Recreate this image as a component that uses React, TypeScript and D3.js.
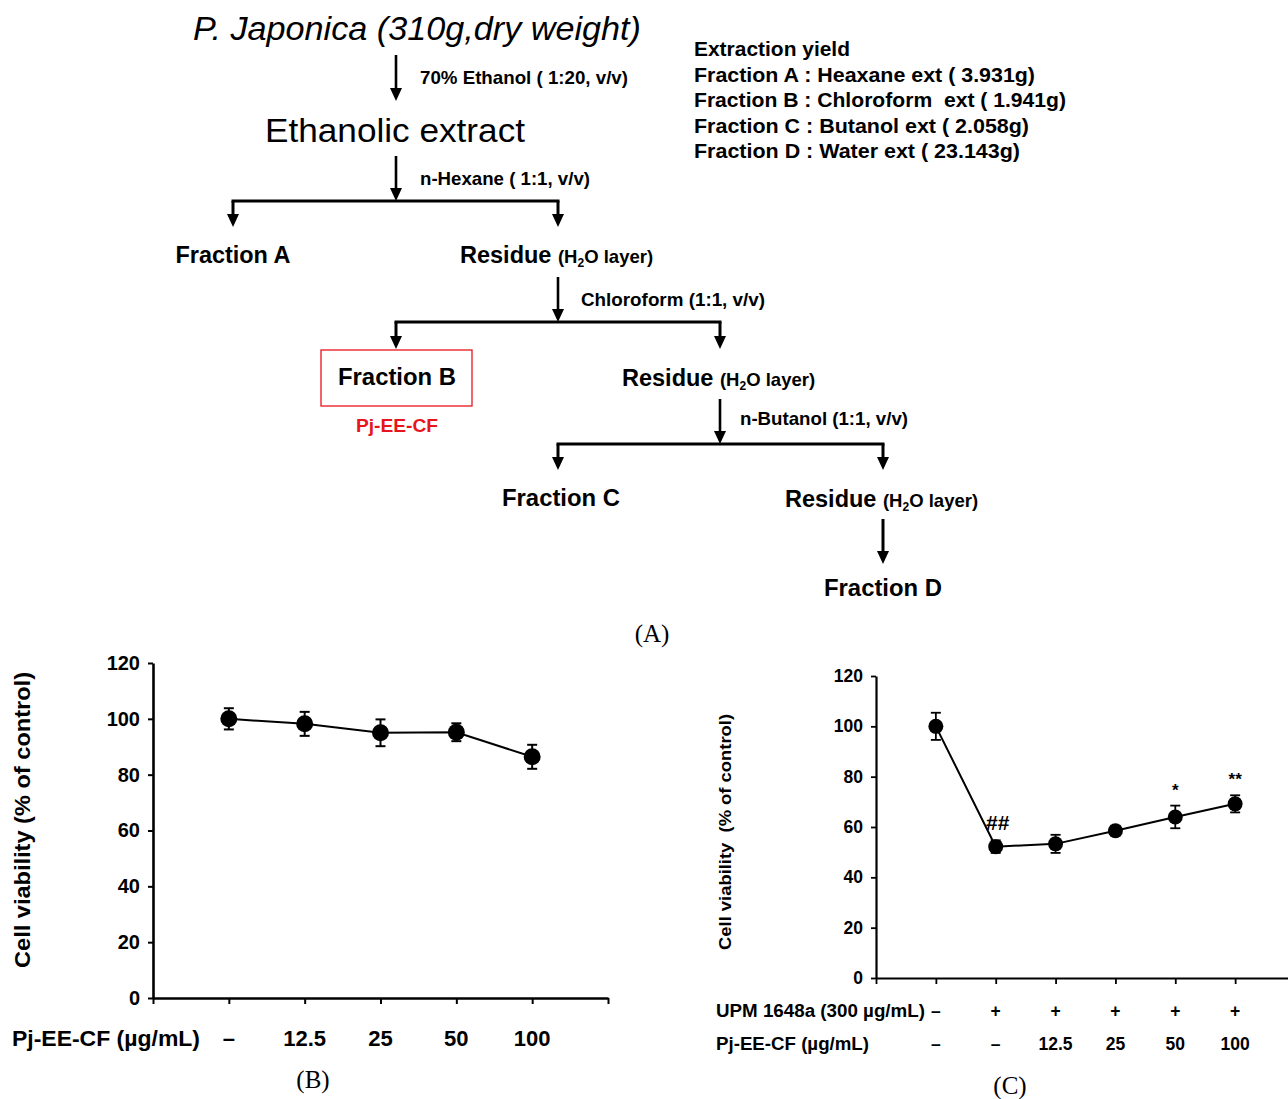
import React, { useEffect, useRef } from "react";
import * as d3 from "d3";

// panel B: cell viability with Pj-EE-CF alone
const doseLabelsB = ["–", "12.5", "25", "50", "100"];
const viabilityB = [100, 98.2, 95, 95.2, 86.4];
const errorB = [3.8, 4.3, 4.8, 3.2, 4.3];

// panel C: UPM 1648a challenge + Pj-EE-CF
const upmLabels = ["–", "+", "+", "+", "+", "+"];
const doseLabelsC = ["–", "–", "12.5", "25", "50", "100"];
const viabilityC = [100, 52.2, 53.3, 58.5, 64, 69.2];
const errorC = [5.4, 2.5, 3.6, 2.0, 4.5, 3.4];
const signifC = ["", "##", "", "", "*", "**"];

const yTicks = [0, 20, 40, 60, 80, 100, 120];

const yieldLines = [
  "Extraction yield",
  "Fraction A : Heaxane ext ( 3.931g)",
  "Fraction B : Chloroform  ext ( 1.941g)",
  "Fraction C : Butanol ext ( 2.058g)",
  "Fraction D : Water ext ( 23.143g)",
];
const yieldWidths = [156, 341, 372, 335, 326];

const SANS = "'Liberation Sans', Arial, sans-serif";
const SERIF = "'Liberation Serif', 'Times New Roman', serif";

const App = () => {
  const ref = useRef(null);

  useEffect(() => {
    d3.select(ref.current).select("svg").remove();

    const svg = d3
      .select(ref.current)
      .append("svg")
      .attr("width", 1288)
      .attr("height", 1099)
      .style("position", "absolute")
      .style("left", 0)
      .style("top", 0)
      .style("background", "#fff")
      .style("font-family", SANS);

    // ---------- flowchart (A) ----------
    const flow = svg.append("g");

    const arrowDown = (x, y1, y2, w = 2.6) => {
      flow
        .append("line")
        .attr("x1", x)
        .attr("x2", x)
        .attr("y1", y1)
        .attr("y2", y2 - 10)
        .attr("stroke", "#000")
        .attr("stroke-width", w);
      flow
        .append("path")
        .attr("d", `M${x - 6},${y2 - 13} L${x + 6},${y2 - 13} L${x},${y2} Z`)
        .attr("fill", "#000");
    };

    const split = (xl, xr, y, yEnd) => {
      flow
        .append("line")
        .attr("x1", xl - 1.5)
        .attr("x2", xr + 1.5)
        .attr("y1", y)
        .attr("y2", y)
        .attr("stroke", "#000")
        .attr("stroke-width", 3.2);
      arrowDown(xl, y, yEnd, 3);
      arrowDown(xr, y, yEnd, 3);
    };

    const label = (x, y, txt, size, opts = {}) => {
      const t = flow
        .append("text")
        .attr("x", x)
        .attr("y", y)
        .attr("text-anchor", opts.anchor || "start")
        .attr("font-size", size)
        .attr("font-weight", opts.weight || "bold")
        .attr("font-style", opts.italic ? "italic" : "normal")
        .attr("fill", opts.color || "#000")
        .attr("xml:space", "preserve")
        .text(txt);
      if (opts.len) t.attr("textLength", opts.len).attr("lengthAdjust", "spacingAndGlyphs");
      return t;
    };

    const residue = (x, y) => {
      const t = flow
        .append("text")
        .attr("x", x)
        .attr("y", y)
        .attr("font-weight", "bold")
        .attr("fill", "#000");
      t.append("tspan").attr("font-size", 23.5).text("Residue ");
      t.append("tspan").attr("font-size", 18.5).text("(H");
      t.append("tspan").attr("font-size", 12).attr("dy", 4).text("2");
      t.append("tspan").attr("font-size", 18.5).attr("dy", -4).text("O layer)");
    };

    label(417, 40, "P. Japonica (310g,dry weight)", 33, { anchor: "middle", weight: "normal", italic: true, len: 448 });
    arrowDown(396, 55, 101);
    label(420, 84, "70% Ethanol ( 1:20, v/v)", 18.5, { len: 208 });
    label(395, 142, "Ethanolic extract", 34, { anchor: "middle", weight: "normal", len: 260 });
    arrowDown(396, 156, 201);
    label(420, 185, "n-Hexane ( 1:1, v/v)", 18.5, { len: 170 });
    split(233, 558, 201, 227);

    label(233, 263, "Fraction A", 23.5, { anchor: "middle", len: 115 });
    residue(460, 263);
    arrowDown(558, 277, 322);
    label(581, 306, "Chloroform (1:1, v/v)", 18.5, { len: 184 });
    split(396, 720, 322, 349);

    flow
      .append("rect")
      .attr("x", 321)
      .attr("y", 350)
      .attr("width", 151)
      .attr("height", 56)
      .attr("fill", "none")
      .attr("stroke", "#e8141b")
      .attr("stroke-width", 1.3);
    label(397, 385, "Fraction B", 23.5, { anchor: "middle", len: 118 });
    label(397, 432, "Pj-EE-CF", 18.5, { anchor: "middle", color: "#e8141b", len: 82 });

    residue(622, 386);
    arrowDown(720, 399, 444);
    label(740, 425, "n-Butanol (1:1, v/v)", 18.5, { len: 168 });
    split(558, 883, 444, 470);

    label(561, 506, "Fraction C", 23.5, { anchor: "middle", len: 118 });
    residue(785, 507);
    arrowDown(883, 519, 564, 3);
    label(883, 596, "Fraction D", 23.5, { anchor: "middle", len: 118 });

    yieldLines.forEach((l, i) => label(694, 56 + i * 25.6, l, 20.5, { len: yieldWidths[i] }));

    flow
      .append("text")
      .attr("x", 652)
      .attr("y", 642)
      .attr("text-anchor", "middle")
      .attr("font-family", SERIF)
      .attr("font-size", 25)
      .text("(A)");

    // ---------- panel B ----------
    const gB = svg.append("g");
    const xB = d3.scaleLinear().domain([0, 6]).range([153, 608]);
    const yB = d3.scaleLinear().domain([0, 120]).range([998, 663]);

    gB.append("g")
      .attr("transform", `translate(${xB(0)},0)`)
      .call(d3.axisLeft(yB).tickValues(yTicks).tickSize(5).tickSizeOuter(0).tickPadding(8))
      .call((g) => g.select(".domain").attr("stroke-width", 2.6))
      .call((g) => g.selectAll(".tick line").attr("stroke-width", 2))
      .call((g) =>
        g
          .selectAll(".tick text")
          .attr("font-family", SANS)
          .attr("font-size", 20)
          .attr("font-weight", "bold")
          .attr("fill", "#000")
      );

    gB.append("g")
      .attr("transform", `translate(0,${yB(0)})`)
      .call(d3.axisBottom(xB).tickValues([0, 1, 2, 3, 4, 5, 6]).tickSize(6).tickSizeOuter(0).tickFormat(() => ""))
      .call((g) => g.select(".domain").attr("stroke-width", 2.6))
      .call((g) => g.selectAll(".tick line").attr("stroke-width", 2));

    const ptsB = viabilityB.map((v, i) => ({ i: i + 1, v, e: errorB[i] }));

    gB.append("path")
      .datum(ptsB)
      .attr("fill", "none")
      .attr("stroke", "#000")
      .attr("stroke-width", 2)
      .attr(
        "d",
        d3
          .line()
          .x((d) => xB(d.i))
          .y((d) => yB(d.v))
      );

    const ebB = gB.selectAll(".eb").data(ptsB).enter().append("g");
    ebB
      .append("line")
      .attr("x1", (d) => xB(d.i))
      .attr("x2", (d) => xB(d.i))
      .attr("y1", (d) => yB(d.v + d.e))
      .attr("y2", (d) => yB(d.v - d.e))
      .attr("stroke", "#000")
      .attr("stroke-width", 2);
    [1, -1].forEach((s) =>
      ebB
        .append("line")
        .attr("x1", (d) => xB(d.i) - 5)
        .attr("x2", (d) => xB(d.i) + 5)
        .attr("y1", (d) => yB(d.v + s * d.e))
        .attr("y2", (d) => yB(d.v + s * d.e))
        .attr("stroke", "#000")
        .attr("stroke-width", 2)
    );
    ebB
      .append("circle")
      .attr("cx", (d) => xB(d.i))
      .attr("cy", (d) => yB(d.v))
      .attr("r", 8.5)
      .attr("fill", "#000");

    gB.append("text")
      .attr("x", 12)
      .attr("y", 1046)
      .attr("font-size", 22)
      .attr("font-weight", "bold")
      .attr("textLength", 188)
      .attr("lengthAdjust", "spacingAndGlyphs")
      .text("Pj-EE-CF (µg/mL)");
    gB.selectAll(".doseB")
      .data(doseLabelsB)
      .enter()
      .append("text")
      .attr("x", (d, i) => xB(i + 1))
      .attr("y", 1046)
      .attr("text-anchor", "middle")
      .attr("font-size", 22)
      .attr("font-weight", "bold")
      .text((d) => d);

    gB.append("text")
      .attr("transform", `translate(30,${(672 + 968) / 2}) rotate(-90)`)
      .attr("text-anchor", "middle")
      .attr("font-size", 22)
      .attr("font-weight", "bold")
      .attr("textLength", 296)
      .attr("lengthAdjust", "spacingAndGlyphs")
      .text("Cell viability (% of control)");

    gB.append("text")
      .attr("x", 313)
      .attr("y", 1088)
      .attr("text-anchor", "middle")
      .attr("font-family", SERIF)
      .attr("font-size", 25)
      .text("(B)");

    // ---------- panel C ----------
    const gC = svg.append("g");
    const xC = d3.scaleLinear().domain([0, 7]).range([876, 1295]);
    const yC = d3.scaleLinear().domain([0, 120]).range([978, 676]);

    gC.append("g")
      .attr("transform", `translate(${xC(0)},0)`)
      .call(d3.axisLeft(yC).tickValues(yTicks).tickSize(5).tickSizeOuter(0).tickPadding(8))
      .call((g) => g.select(".domain").attr("stroke-width", 2.2))
      .call((g) => g.selectAll(".tick line").attr("stroke-width", 1.8))
      .call((g) =>
        g
          .selectAll(".tick text")
          .attr("font-family", SANS)
          .attr("font-size", 17.5)
          .attr("font-weight", "bold")
          .attr("fill", "#000")
      );

    gC.append("g")
      .attr("transform", `translate(0,${yC(0)})`)
      .call(d3.axisBottom(xC).tickValues([0, 1, 2, 3, 4, 5, 6, 7]).tickSize(6).tickSizeOuter(0).tickFormat(() => ""))
      .call((g) => g.select(".domain").attr("stroke-width", 2.2))
      .call((g) => g.selectAll(".tick line").attr("stroke-width", 1.8));

    const ptsC = viabilityC.map((v, i) => ({ i: i + 1, v, e: errorC[i], s: signifC[i] }));

    gC.append("path")
      .datum(ptsC)
      .attr("fill", "none")
      .attr("stroke", "#000")
      .attr("stroke-width", 2)
      .attr(
        "d",
        d3
          .line()
          .x((d) => xC(d.i))
          .y((d) => yC(d.v))
      );

    const ebC = gC.selectAll(".eb").data(ptsC).enter().append("g");
    ebC
      .append("line")
      .attr("x1", (d) => xC(d.i))
      .attr("x2", (d) => xC(d.i))
      .attr("y1", (d) => yC(d.v + d.e))
      .attr("y2", (d) => yC(d.v - d.e))
      .attr("stroke", "#000")
      .attr("stroke-width", 1.8);
    [1, -1].forEach((s) =>
      ebC
        .append("line")
        .attr("x1", (d) => xC(d.i) - 5)
        .attr("x2", (d) => xC(d.i) + 5)
        .attr("y1", (d) => yC(d.v + s * d.e))
        .attr("y2", (d) => yC(d.v + s * d.e))
        .attr("stroke", "#000")
        .attr("stroke-width", 1.8)
    );
    ebC
      .append("circle")
      .attr("cx", (d) => xC(d.i))
      .attr("cy", (d) => yC(d.v))
      .attr("r", 7.5)
      .attr("fill", "#000");

    ebC
      .append("text")
      .attr("x", (d) => xC(d.i) + (d.s === "##" ? 2 : 0))
      .attr("y", (d) => (d.s === "##" ? yC(d.v) - 17 : yC(d.v + d.e) - 10))
      .attr("text-anchor", "middle")
      .attr("font-family", SANS)
      .attr("font-size", (d) => (d.s === "##" ? 21 : 17))
      .attr("font-weight", "bold")
      .text((d) => d.s);

    const rowText = (x, y, txt, len) =>
      gC
        .append("text")
        .attr("x", x)
        .attr("y", y)
        .attr("font-size", 17.5)
        .attr("font-weight", "bold")
        .attr("textLength", len)
        .attr("lengthAdjust", "spacingAndGlyphs")
        .text(txt);
    rowText(716, 1017, "UPM 1648a (300 µg/mL)", 209);
    rowText(716, 1050, "Pj-EE-CF (µg/mL)", 153);

    gC.selectAll(".upm")
      .data(upmLabels)
      .enter()
      .append("text")
      .attr("x", (d, i) => xC(i + 1))
      .attr("y", 1017)
      .attr("text-anchor", "middle")
      .attr("font-size", 17.5)
      .attr("font-weight", "bold")
      .text((d) => d);
    gC.selectAll(".doseC")
      .data(doseLabelsC)
      .enter()
      .append("text")
      .attr("x", (d, i) => xC(i + 1))
      .attr("y", 1050)
      .attr("text-anchor", "middle")
      .attr("font-size", 17.5)
      .attr("font-weight", "bold")
      .text((d) => d);

    gC.append("text")
      .attr("transform", `translate(731,${(714 + 950) / 2}) rotate(-90)`)
      .attr("text-anchor", "middle")
      .attr("font-size", 17)
      .attr("font-weight", "bold")
      .attr("xml:space", "preserve")
      .attr("textLength", 236)
      .attr("lengthAdjust", "spacingAndGlyphs")
      .text("Cell viability  (% of control)");

    gC.append("text")
      .attr("x", 1010)
      .attr("y", 1094)
      .attr("text-anchor", "middle")
      .attr("font-family", SERIF)
      .attr("font-size", 25)
      .text("(C)");
  }, []);

  return <div ref={ref}></div>;
};

export default App;
